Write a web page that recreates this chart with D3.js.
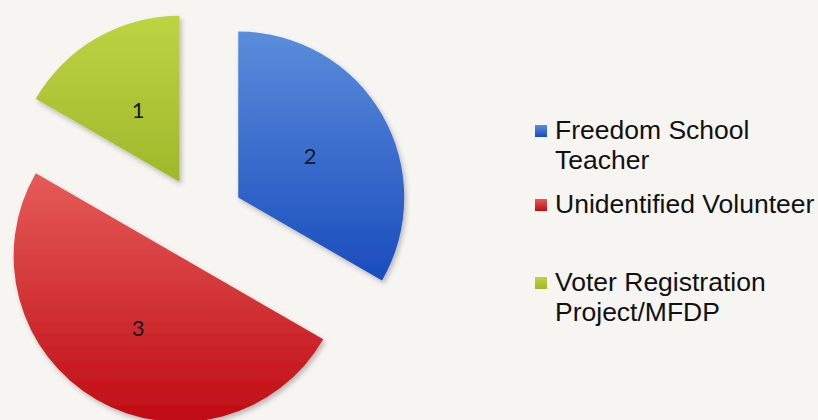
<!DOCTYPE html>
<html>
<head>
<meta charset="utf-8">
<script src="https://cdn.jsdelivr.net/npm/d3@7"></script>
<style>
  html, body { margin: 0; padding: 0; background: #f6f5f2; }
  svg { display: block; }
</style>
</head>
<body>
<svg id="chart" width="818" height="420"></svg>
<script>
// Volunteer roles and their counts
const categories = ["Freedom School Teacher", "Unidentified Volunteer", "Voter Registration Project/MFDP"];
const values = [2, 3, 1];
const legendLines = [["Freedom School", "Teacher"], ["Unidentified Volunteer"], ["Voter Registration", "Project/MFDP"]];
const colorsLight = ["#5a8ddb", "#e45c58", "#bdd442"];
const colorsDark = ["#1a4cbd", "#c00c14", "#9fb82a"];

const W = 818, H = 420;
const cx = 201, cy = 219, radius = 166, explode = 43;
const legend = { squareX: 535, textX: 555, baselines: [139, 213, 291], lineHeight: 30, square: 12 };

const svg = d3.select("#chart");
svg.append("rect").attr("width", W).attr("height", H).attr("fill", "#f6f5f2");

const defs = svg.append("defs");
const shadow = defs.append("filter").attr("id", "shadow")
  .attr("x", "-20%").attr("y", "-20%").attr("width", "140%").attr("height", "140%");
shadow.append("feDropShadow").attr("dx", 2).attr("dy", 3)
  .attr("stdDeviation", 2.5).attr("flood-color", "#000").attr("flood-opacity", 0.25);

categories.forEach((c, i) => {
  const g = defs.append("linearGradient").attr("id", "grad" + i)
    .attr("x1", 0).attr("y1", 0).attr("x2", 0).attr("y2", 1);
  g.append("stop").attr("offset", "0%").attr("stop-color", colorsLight[i]);
  g.append("stop").attr("offset", "100%").attr("stop-color", colorsDark[i]);
});

const pie = d3.pie().sort(null).value(d => d.value);
const arcs = pie(categories.map((c, i) => ({ name: c, value: values[i], i })));
const arc = d3.arc().innerRadius(0).outerRadius(radius);

const offsetOf = d => {
  const a = (d.startAngle + d.endAngle) / 2;
  return [Math.sin(a) * explode, -Math.cos(a) * explode];
};

const slices = svg.append("g").attr("transform", `translate(${cx},${cy})`)
  .selectAll("g").data(arcs).join("g")
  .attr("transform", d => { const o = offsetOf(d); return `translate(${o[0]},${o[1]})`; });

slices.append("path")
  .attr("d", arc)
  .attr("fill", d => `url(#grad${d.data.i})`)
  .attr("filter", "url(#shadow)");

slices.append("text")
  .attr("transform", d => `translate(${arc.centroid(d)})`)
  .attr("text-anchor", "middle")
  .attr("dy", "0.36em")
  .attr("font-family", "Lato, 'Open Sans', sans-serif")
  .attr("font-size", 22)
  .attr("fill", "#141826")
  .text(d => d.data.value);

// Legend
const items = svg.append("g").selectAll("g").data(categories).join("g");
items.append("rect")
  .attr("x", legend.squareX)
  .attr("y", (d, i) => legend.baselines[i] - legend.square - 2)
  .attr("width", legend.square).attr("height", legend.square)
  .attr("fill", (d, i) => `url(#grad${i})`);
items.append("text")
  .attr("font-family", "'Liberation Sans', Arial, sans-serif")
  .attr("font-size", 26.5)
  .attr("fill", "#111")
  .each(function(d, i) {
    d3.select(this).selectAll("tspan").data(legendLines[i]).join("tspan")
      .attr("x", legend.textX)
      .attr("y", (t, j) => legend.baselines[i] + j * legend.lineHeight)
      .text(t => t);
  });
</script>
</body>
</html>
